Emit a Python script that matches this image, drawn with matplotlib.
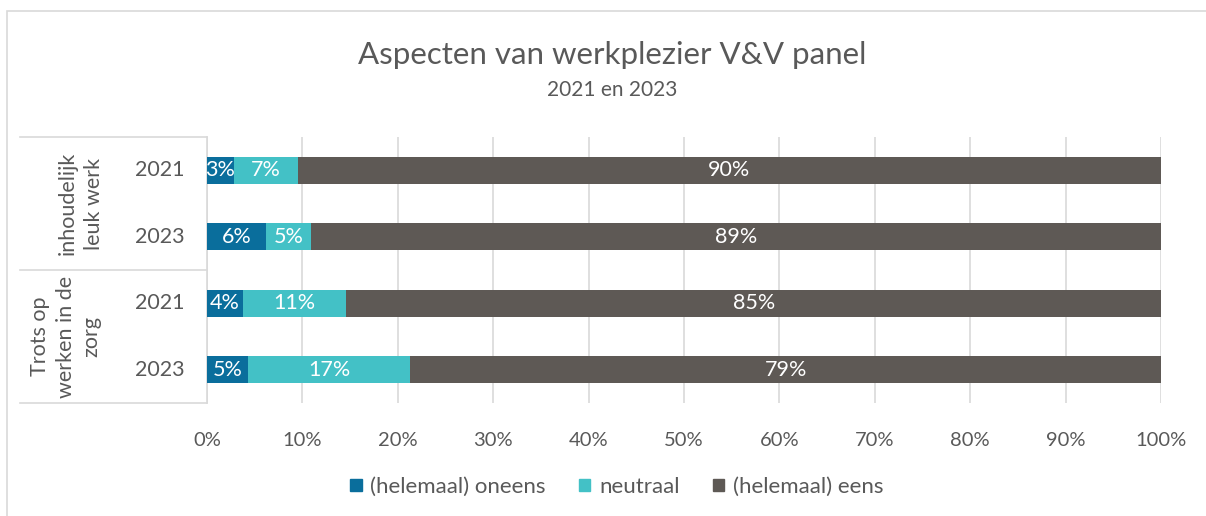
import matplotlib
matplotlib.use("Agg")
import matplotlib.pyplot as plt
from matplotlib.lines import Line2D
from matplotlib.patches import Rectangle
import matplotlib.transforms as mtransforms
import numpy as np

plt.rcParams['font.family'] = ['Lato', 'DejaVu Sans']

groups = ["inhoudelijk\nleuk werk", "Trots op\nwerken in de\nzorg"]
years = ["2021", "2023", "2021", "2023"]
series_names = ["(helemaal) oneens", "neutraal", "(helemaal) eens"]
oneens = [2.8, 6.2, 3.8, 4.3]
neutraal = [6.7, 4.7, 10.8, 17.0]
eens = [90.5, 89.1, 85.4, 78.7]
label_oneens = ["3%", "6%", "4%", "5%"]
label_neutraal = ["7%", "5%", "11%", "17%"]
label_eens = ["90%", "89%", "85%", "79%"]
colors = ["#0A6E9C", "#43C1C6", "#5E5955"]
text_color = "#595959"
grid_color = "#D9D9D9"

W, H = 1206, 516
fig = plt.figure(figsize=(W / 100, H / 100), dpi=100)

def fx(px):
    return px / W

def fy(py):
    return 1 - py / H

# chart border
fig.add_artist(Rectangle((fx(7), fy(530)), fx(1220) - fx(7), fy(11) - fy(530),
                         transform=fig.transFigure, fill=False,
                         edgecolor=grid_color, linewidth=1.2))

ax = fig.add_axes([fx(207), fy(403), fx(1161) - fx(207), fy(137) - fy(403)])
y = np.arange(len(years))
data = [oneens, neutraal, eens]
labels = [label_oneens, label_neutraal, label_eens]
left = np.zeros(len(years))
for vals, col, name, labs in zip(data, colors, series_names, labels):
    vals = np.array(vals)
    ax.barh(y, vals, left=left, height=0.41, color=col, label=name, zorder=3)
    for yi, (l, v, t) in enumerate(zip(left, vals, labs)):
        ax.text(l + v / 2, yi, t, ha="center", va="center", color="white",
                fontsize=15.5, zorder=4)
    left = left + vals

ax.set_xlim(0, 100)
ax.set_ylim(3.5, -0.5)
ax.set_xticks(np.arange(0, 101, 10))
ax.set_xticklabels([f"{v}%" for v in range(0, 101, 10)], fontsize=14.5, color=text_color)
ax.tick_params(axis="x", length=0, pad=21)
ax.set_yticks([])
ax.grid(axis="x", color=grid_color, linewidth=1.2, zorder=0)
for s in ["top", "right", "bottom"]:
    ax.spines[s].set_visible(False)
ax.spines["left"].set_color(grid_color)
ax.spines["left"].set_linewidth(1.2)

# category table
trans = mtransforms.blended_transform_factory(fig.transFigure, ax.transData)
for yl in [-0.5, 1.5, 3.5]:
    ax.add_line(Line2D([fx(20), fx(207)], [yl, yl], transform=trans,
                       color=grid_color, linewidth=1.2, clip_on=False))
for yi, yr in enumerate(years):
    ax.text(fx(160), yi, yr, transform=trans, ha="center", va="center",
            fontsize=15.5, color=text_color)
for gi, g in enumerate(groups):
    ax.text(fx(81) if gi == 0 else fx(66), 0.5 + 2 * gi, g, transform=trans,
            ha="center", va="center", rotation=90, fontsize=15.5,
            color=text_color, linespacing=1.35, multialignment="center")

fig.text(fx(612), fy(55), "Aspecten van werkplezier V&V panel", ha="center",
         va="center", fontsize=22.5, color=text_color)
fig.text(fx(612), fy(90), "2021 en 2023", ha="center", va="center",
         fontsize=15, color=text_color)

handles = [Rectangle((0, 0), 1, 1, color=c) for c in colors]
fig.legend(handles, series_names, loc="center", bbox_to_anchor=(fx(617), fy(487)),
           ncol=3, frameon=False, fontsize=16, handlelength=0.5,
           handleheight=0.5, handletextpad=0.4, columnspacing=1.5,
           labelcolor=text_color)

fig.savefig("out.png", dpi=100)
